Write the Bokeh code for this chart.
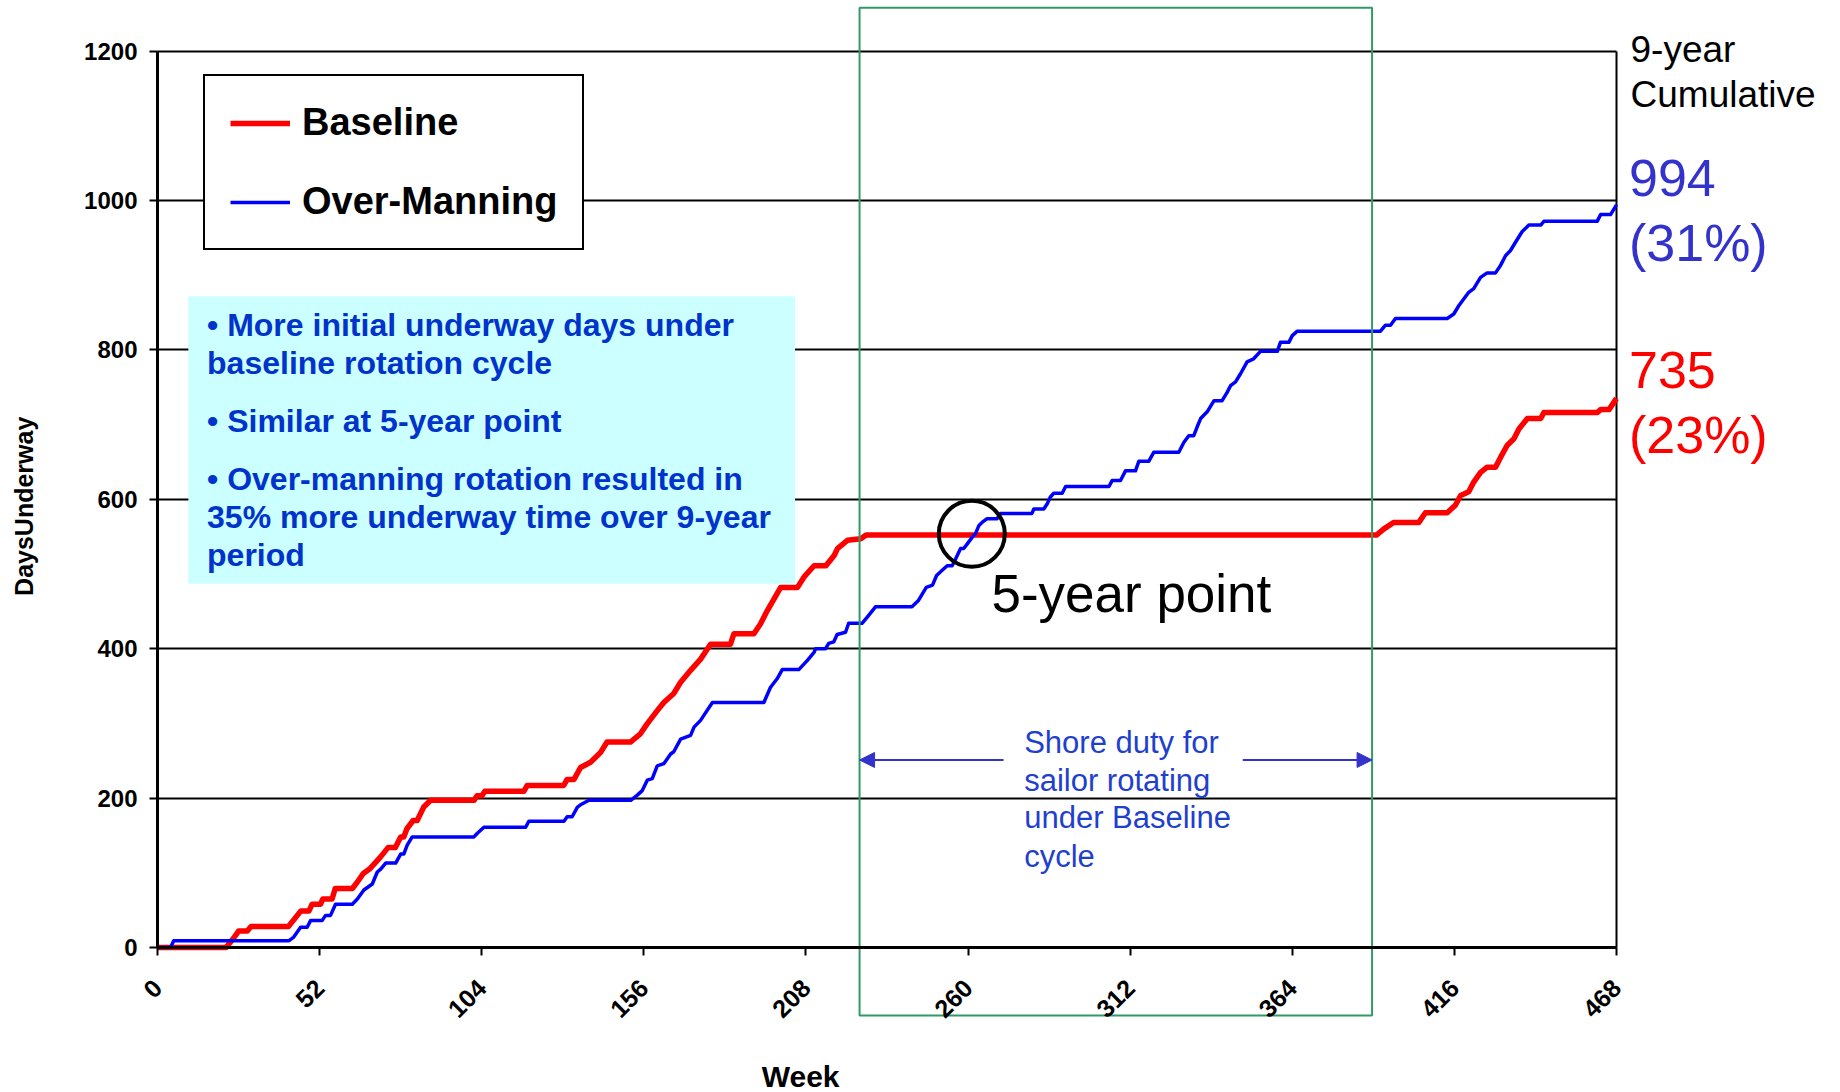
import math
from bokeh.plotting import figure
from bokeh.models import (Range1d, LinearAxis, FixedTicker, Grid, Legend, LegendItem,
                          Arrow, NormalHead)
from bokeh.core.properties import value
from bokeh.embed import file_html
from bokeh.resources import INLINE

# ---------------- data ----------------
week_ticks = [0, 52, 104, 156, 208, 260, 312, 364, 416, 468]
day_ticks = [0, 200, 400, 600, 800, 1000, 1200]

baseline_weeks = [0, 22.0, 24.5, 26.0, 28.8, 30.0, 42.0, 46.0, 48.6, 49.6, 52.3, 53.0, 56.0, 57.0,
                  62.5, 64.0, 66.0, 68.0, 71.5, 74.0, 76.3, 78.0, 79.0, 80.0, 82.0, 83.3, 85.4,
                  87.6, 101.5, 102.5, 104.0, 105.0, 117.5, 118.6, 130.3, 131.4, 133.6, 135.7,
                  138.9, 142.1, 144.2, 151.7, 154.9, 157.0, 160.3, 162.4, 165.6, 167.8, 171.0,
                  174.2, 177.4, 183.8, 184.9, 191.3, 193.4, 195.6, 199.9, 205.3, 207.4, 210.6,
                  214.4, 217.1, 218.1, 221.3, 225.6, 227.3, 391.0, 393.3, 396.5, 404.6, 406.7,
                  413.7, 416.3, 418.0, 420.6, 422.2, 424.4, 426.5, 429.2, 430.8, 432.9, 435.1,
                  436.7, 439.4, 443.7, 444.7, 461.8, 462.9, 465.6, 468.0]
baseline_days = [0, 0, 13, 22, 22, 28, 28, 49, 49, 58, 58, 65, 65, 79,
                 79, 87, 99, 105, 121, 134, 134, 148, 148, 159, 170, 170, 188,
                 197, 197, 203, 203, 209, 209, 217, 217, 225, 225, 241,
                 248, 261, 275, 275, 286, 299, 317, 328, 340, 355, 371,
                 386, 406, 406, 420, 420, 433, 451, 482, 482, 496, 511,
                 511, 525, 534, 545, 547, 552, 552, 560, 569, 569, 582,
                 582, 592, 605, 610, 623, 636, 643, 643, 656, 672, 681,
                 694, 708, 708, 716, 716, 720, 720, 735]

over_weeks = [0, 4.2, 5.2, 42.1, 43.7, 45.9, 48.0, 49.1, 52.8, 53.9, 55.5, 57.1, 62.5, 64.1,
              66.2, 68.9, 70.5, 71.6, 73.2, 76.4, 78.0, 79.0, 80.1, 81.7, 101.5, 102.6, 104.7,
              118.1, 119.1, 130.4, 131.4, 133.0, 134.7, 135.7, 138.4, 151.8, 153.9, 155.5,
              157.1, 158.7, 160.3, 162.4, 164.6, 165.6, 167.8, 171.0, 172.1, 174.2, 175.3,
              178.0, 194.5, 196.6, 198.8, 200.4, 205.7, 208.4, 210.6, 211.1, 214.3, 215.3,
              216.9, 218.0, 220.7, 221.7, 226.0, 227.6, 230.3, 242.0, 244.0, 245.3, 246.6,
              248.6, 249.9, 251.7, 253.3, 254.9, 256.0, 257.6, 258.6, 259.7, 261.3, 262.4,
              263.5, 264.5, 266.1, 269.3, 270.4, 280.5, 281.1, 284.3, 285.4, 286.4, 287.5,
              290.2, 291.3, 305.2, 306.2, 308.9, 310.5, 313.7, 314.8, 318.0, 319.6, 327.6,
              329.2, 330.8, 332.4, 333.5, 334.6, 336.7, 338.9, 341.5, 343.1, 344.2, 345.8,
              347.4, 349.5, 351.6, 353.8, 359.2, 360.2, 362.9, 364.0, 365.6, 392.3, 393.9,
              395.5, 397.1, 413.7, 415.8, 417.4, 419.0, 420.6, 422.2, 424.4, 426.5, 429.2,
              430.8, 432.4, 434.0, 435.6, 437.7, 439.9, 443.7, 444.7, 461.8, 462.9, 466.1, 468.0]
over_days = [0, 0, 9, 9, 14, 27, 27, 36, 36, 43, 43, 58, 58, 65,
             77, 85, 101, 105, 113, 113, 125, 125, 137, 148, 148, 153, 161,
             161, 169, 169, 175, 175, 188, 191, 197, 197, 204, 210,
             224, 226, 243, 246, 259, 262, 279, 284, 295, 304, 311,
             328, 328, 348, 360, 372, 372, 384, 395, 400, 400, 407,
             409, 419, 422, 434, 434, 442, 456, 456, 464, 473, 482,
             485, 498, 505, 511, 511, 520, 534, 534, 540, 549, 554,
             565, 569, 574, 574, 581, 581, 587, 587, 594, 603, 608,
             608, 617, 617, 625, 625, 638, 638, 651, 651, 663, 663,
             676, 685, 685, 697, 708, 717, 732, 732, 743, 752, 757,
             768, 784, 788, 798, 798, 810, 810, 819, 825, 825, 833,
             833, 842, 842, 848, 859, 868, 877, 882, 897, 903, 903,
             913, 926, 933, 944, 958, 967, 967, 972, 972, 981, 981, 994]

series_names = ["Baseline", "Over-Manning"]
totals = ["994", "735"]
shares = ["(31%)", "(23%)"]
shore_period = (225.2, 389.6)
five_year_point = (261.2, 553.7)
notes = ["\u2022 More initial underway days under", "baseline rotation cycle",
         "\u2022 Similar at 5-year point", "\u2022 Over-manning rotation resulted in",
         "35% more underway time over 9-year", "period"]
shore_text = ["Shore duty for", "sailor rotating", "under Baseline", "cycle"]

# ---------------- figure ----------------
FONT = "Liberation Sans"
W, H = 1840, 1092
sx = (1616 - 157) / 468.0
sy = (947 - 50.5) / 1200.0
x0 = (0 - 157) / sx
y1 = 1200 + 50.5 / sy

p = figure(width=W, height=H,
           x_range=Range1d(x0, x0 + W / sx), y_range=Range1d(y1 - H / sy, y1),
           x_axis_type=None, y_axis_type=None,
           output_backend="svg", toolbar_location=None,
           min_border=0, outline_line_color=None, background_fill_color="white")

axis_style = dict(axis_line_color="black", axis_line_width=3,
                  major_tick_line_color="black", major_tick_line_width=2,
                  major_tick_in=0, major_tick_out=8, minor_tick_line_color=None,
                  major_label_text_font=FONT, major_label_text_font_style="bold",
                  major_label_text_color="black")
xaxis = LinearAxis(ticker=FixedTicker(ticks=week_ticks), fixed_location=0,
                   bounds=(0, 468), major_label_orientation=math.pi / 4,
                   major_label_standoff=28, major_label_text_font_size="25px",
                   **axis_style)
p.add_layout(xaxis, "below")
yaxis = LinearAxis(ticker=FixedTicker(ticks=day_ticks), fixed_location=0,
                   bounds=(0, 1200), major_label_standoff=12,
                   major_label_text_font_size="24px", **axis_style)
p.add_layout(yaxis, "left")

has_cross = "cross_bounds" in Grid.properties()
if has_cross:
    p.add_layout(Grid(dimension=1, ticker=FixedTicker(ticks=day_ticks[1:]),
                      bounds=(0, 1200), cross_bounds=(0, 468),
                      grid_line_color="black", grid_line_width=2))
    p.add_layout(Grid(dimension=0, ticker=FixedTicker(ticks=[week_ticks[-1]]),
                      bounds=(0, 468), cross_bounds=(0, 1200),
                      grid_line_color="black", grid_line_width=2))
else:
    gy = day_ticks[1:]
    p.segment(x0=[0] * len(gy), x1=[week_ticks[-1]] * len(gy), y0=gy, y1=gy,
              line_color="black", line_width=2)
    p.segment(x0=[week_ticks[-1]], x1=[week_ticks[-1]], y0=[0], y1=[day_ticks[-1]],
              line_color="black", line_width=2)

# notes box
p.quad(left=[9.9], right=[204.5], bottom=[487], top=[871.8],
       fill_color="#ccffff", line_color=None)
p.text(x=[15.9] * len(notes), y=[833.3, 782.4, 704.8, 627.1, 576.3, 525.4], text=notes,
       text_font=value(FONT), text_font_style="bold", text_font_size="32px",
       text_color="#0033cc", text_align="left", text_baseline="alphabetic")

# series
r_base = p.line(baseline_weeks, baseline_days, line_color="#ff0000", line_width=5.5,
                line_join="round")
r_over = p.line(over_weeks, over_days, line_color="#0000ff", line_width=3.5,
                line_join="round")

# 5-year point
p.scatter(x=[five_year_point[0]], y=[five_year_point[1]], size=66, marker="circle",
          fill_alpha=0, line_color="black", line_width=4)
p.text(x=[267.5], y=[474.2], text=["5-year point"], text_font=value(FONT),
       text_font_size="53px", text_color="black", text_align="left",
       text_baseline="alphabetic")

# shore duty box + annotation
p.quad(left=[shore_period[0]], right=[shore_period[1]], bottom=[-91], top=[1258],
       fill_alpha=0, line_color="#339966", line_width=2)
p.text(x=[278] * 4, y=[275.0, 224.0, 173.4, 121.6], text=shore_text,
       text_font=value(FONT), text_font_size="31px", text_color="#1f3fce",
       text_align="left", text_baseline="alphabetic")
for xs, xe in [(271.4, shore_period[0]), (348.1, shore_period[1])]:
    p.add_layout(Arrow(end=NormalHead(size=15, fill_color="#3333cc", line_color="#3333cc"),
                       x_start=xs, y_start=251, x_end=xe, y_end=251,
                       line_color="#3333cc", line_width=2))

# right side totals
p.text(x=[472.5, 472.5], y=[1202.3, 1142.0], text=["9-year", "Cumulative"],
       text_font=value(FONT), text_font_size="37px", text_color="black",
       text_align="left", text_baseline="alphabetic")
p.text(x=[472, 472], y=[1029.4, 943.2], text=[totals[0], shares[0]],
       text_font=value(FONT), text_font_size="52px", text_color="#3333cc",
       text_align="left", text_baseline="alphabetic")
p.text(x=[472, 472], y=[772.9, 685.9], text=[totals[1], shares[1]],
       text_font=value(FONT), text_font_size="52px", text_color="#ff0000",
       text_align="left", text_baseline="alphabetic")

# axis titles
p.text(x=[206.3], y=[-172.7], text=["Week"], text_font=value(FONT),
       text_font_style="bold", text_font_size="30px", text_color="black",
       text_align="center", text_baseline="middle")
p.text(x=[-42.8], y=[590.6], text=["DaysUnderway"], angle=math.pi / 2,
       text_font=value(FONT), text_font_style="bold", text_font_size="25px",
       text_color="black", text_align="center", text_baseline="middle")

# legend
legend = Legend(items=[LegendItem(label=series_names[0], renderers=[r_base]),
                       LegendItem(label=series_names[1], renderers=[r_over])],
                location=(203, 842), orientation="vertical", padding=25, spacing=36,
                margin=0, glyph_width=60, glyph_height=20, label_standoff=12,
                label_height=20, label_text_font=FONT, label_text_font_style="bold",
                label_text_font_size="38px", label_text_color="black",
                border_line_color="black", border_line_width=2, border_line_alpha=1.0,
                background_fill_color="white", background_fill_alpha=1.0)
p.add_layout(legend)

open("out.html", "w").write(file_html(p, INLINE))
